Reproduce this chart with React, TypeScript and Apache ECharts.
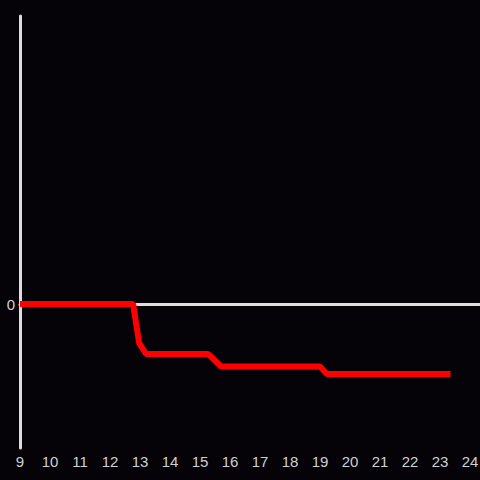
import React, { useEffect, useRef } from "react";
import * as echarts from "echarts";

const xValues = [9, 12.77, 12.97, 13.2, 15.27, 15.7, 19.0, 19.23, 23.35];
const yValues = [0, 0, -0.27, -0.347, -0.347, -0.434, -0.434, -0.486, -0.486];

export default function App() {
  const ref = useRef<HTMLDivElement>(null);
  useEffect(() => {
    const chart = echarts.init(ref.current!, null, { renderer: "svg" });
    const data = xValues.map((x, i) => [x, yValues[i]]);
    chart.setOption({
      animation: false,
      backgroundColor: "#050307",
      grid: { left: 20, right: 0, top: 16, bottom: 32, outerBoundsMode: "none", containLabel: false },
      xAxis: [
        {
          type: "value",
          min: 9,
          max: 24.333,
          interval: 1,
          axisLine: { show: false, onZero: false },
          axisTick: { show: false },
          splitLine: { show: false },
          axisLabel: {
            color: "#d0d0d0",
            fontSize: 15,
            fontFamily: "Liberation Sans, Arial, sans-serif",
            margin: 6,
            formatter: (v: number) => (Number.isInteger(v) ? String(v) : ""),
          },
        },
        {
          type: "value",
          position: "bottom",
          min: 9,
          max: 24.333,
          interval: 1,
          axisLine: { show: true, onZero: true, lineStyle: { color: "#dddddd", width: 3 } },
          axisTick: { show: false },
          splitLine: { show: false },
          axisLabel: { show: false },
        },
      ],
      yAxis: {
        type: "value",
        min: -1,
        max: 2,
        interval: 1,
        axisLine: { show: true, lineStyle: { color: "#dddddd", width: 3 } },
        axisTick: { show: false },
        splitLine: { show: false },
        axisLabel: {
          color: "#d0d0d0",
          fontSize: 15,
          fontFamily: "Liberation Sans, Arial, sans-serif",
          margin: 5,
          formatter: (v: number) => (v === 0 ? "0" : ""),
        },
      },
      series: [
        {
          type: "line",
          data,
          symbol: "none",
          clip: false,
          lineStyle: { color: "#ff0000", width: 6 },
          z: 5,
        },
      ],
    });
    return () => chart.dispose();
  }, []);
  return <div ref={ref} style={{ width: 480, height: 480, position: "fixed", left: 0, top: 0 }} />;
}
